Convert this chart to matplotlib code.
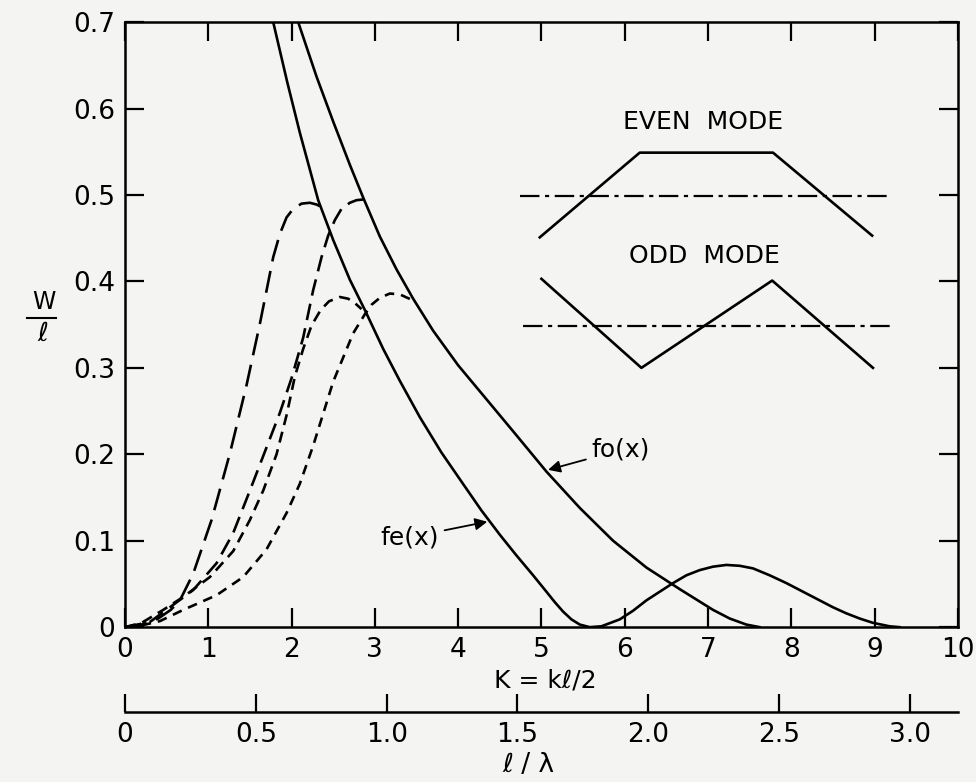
import numpy as np
import matplotlib
matplotlib.use("Agg")
import matplotlib.pyplot as plt

plt.rcParams['font.family'] = ['DejaVu Sans']
plt.rcParams['lines.scale_dashes'] = False

# solid curves
K_fe = [1.78, 1.95, 2.10, 2.32, 2.50, 2.70, 2.88, 3.10, 3.30, 3.54, 3.80, 4.05, 4.28, 4.50,
        4.70, 4.90, 5.06, 5.16, 5.26, 5.36, 5.46, 5.58, 5.72, 5.94, 6.10, 6.26, 6.42, 6.58, 6.74,
        6.90, 7.06, 7.22, 7.38, 7.54, 7.74, 7.94, 8.14, 8.34, 8.50, 8.66, 8.82, 8.98, 9.18, 9.30]
W_fe = [0.700, 0.630, 0.572, 0.494, 0.448, 0.402, 0.367, 0.322, 0.285, 0.243, 0.202, 0.167,
        0.135, 0.107, 0.083, 0.060, 0.041, 0.029, 0.018, 0.009, 0.003, 0.000, 0.001, 0.009, 0.019,
        0.031, 0.041, 0.051, 0.060, 0.066, 0.070, 0.072, 0.071, 0.068, 0.060, 0.051, 0.041,
        0.031, 0.023, 0.016, 0.010, 0.005, 0.001, 0.000]

K_fo = [2.08, 2.30, 2.50, 2.70, 2.86, 3.06, 3.26, 3.46, 3.70, 4.00, 4.32, 4.70, 5.06, 5.46,
        5.86, 6.26, 6.66, 6.86, 7.06, 7.26, 7.46, 7.62]
W_fo = [0.700, 0.637, 0.585, 0.535, 0.497, 0.452, 0.414, 0.380, 0.343, 0.303, 0.266, 0.222,
        0.180, 0.138, 0.100, 0.069, 0.044, 0.032, 0.020, 0.010, 0.003, 0.000]

# dashed curves
K_a = [0, 0.2, 0.4, 0.55, 0.66, 0.82, 1.04, 1.26, 1.46, 1.62, 1.78, 1.86, 1.94, 2.02, 2.12, 2.22, 2.30, 2.34]
W_a = [0, 0.003, 0.010, 0.020, 0.031, 0.062, 0.124, 0.201, 0.280, 0.351, 0.428, 0.455, 0.474,
       0.484, 0.490, 0.491, 0.489, 0.487]

K_b = [0, 0.3, 0.54, 0.82, 1.10, 1.30, 1.50, 1.68, 1.86, 2.0, 2.14, 2.26, 2.36, 2.44, 2.52, 2.60, 2.70, 2.78, 2.88]
W_b = [0, 0.006, 0.023, 0.043, 0.074, 0.109, 0.158, 0.203, 0.248, 0.288, 0.335, 0.390, 0.428,
       0.453, 0.471, 0.484, 0.491, 0.494, 0.495]

K_c = [0, 0.2, 0.46, 0.70, 1.02, 1.30, 1.50, 1.66, 1.82, 1.94, 2.04, 2.14, 2.24, 2.35, 2.45, 2.58, 2.68, 2.76, 2.84]
W_c = [0, 0.005, 0.020, 0.035, 0.058, 0.088, 0.124, 0.158, 0.200, 0.245, 0.290, 0.322, 0.349,
       0.367, 0.377, 0.382, 0.380, 0.375, 0.368]

K_d = [0, 0.2, 0.42, 0.70, 1.10, 1.42, 1.70, 1.94, 2.10, 2.26, 2.50, 2.74, 2.88, 2.96, 3.06, 3.18, 3.30, 3.46]
W_d = [0, 0.002, 0.007, 0.020, 0.037, 0.058, 0.090, 0.132, 0.166, 0.210, 0.284, 0.340, 0.362,
       0.373, 0.381, 0.386, 0.385, 0.378]

# inset sketch of the mode shapes
even_x = [4.98, 6.18, 7.78, 8.97]
even_y = [0.451, 0.549, 0.549, 0.453]
odd_x = [5.00, 6.20, 7.77, 8.98]
odd_y = [0.403, 0.300, 0.401, 0.300]

x_ticks = list(range(0, 11))
y_ticks = [0, 0.1, 0.2, 0.3, 0.4, 0.5, 0.6, 0.7]
y_ticklabels = ['0', '0.1', '0.2', '0.3', '0.4', '0.5', '0.6', '0.7']
lam_ticks = [0, 0.5, 1.0, 1.5, 2.0, 2.5, 3.0]
lam_ticklabels = ['0', '0.5', '1.0', '1.5', '2.0', '2.5', '3.0']

bg = '#f4f4f2'
fig = plt.figure(figsize=(9.76, 7.82), dpi=100, facecolor=bg)
ax = fig.add_axes([0.128, 0.198, 0.8535, 0.7737], facecolor=bg)

lw = 1.9
ax.plot(K_fe, W_fe, color='black', lw=lw)
ax.plot(K_fo, W_fo, color='black', lw=lw)
ax.plot(K_a, W_a, color='black', lw=lw, linestyle=(0, (16, 7)))
ax.plot(K_b, W_b, color='black', lw=lw, linestyle=(0, (12, 6)))
ax.plot(K_c, W_c, color='black', lw=lw, linestyle=(0, (8, 5)))
ax.plot(K_d, W_d, color='black', lw=lw, linestyle=(0, (7, 5)))

# mode sketches
dashdot = (0, (14, 4, 3, 4))
ax.plot(even_x, even_y, color='black', lw=lw)
ax.plot([4.74, 9.15], [0.499, 0.499], color='black', lw=1.6, linestyle=dashdot)
ax.plot(odd_x, odd_y, color='black', lw=lw)
ax.plot([4.78, 9.18], [0.349, 0.349], color='black', lw=1.6, linestyle=dashdot)
ax.text(6.94, 0.584, 'EVEN  MODE', fontsize=18, ha='center', va='center')
ax.text(6.96, 0.430, 'ODD  MODE', fontsize=18, ha='center', va='center')

# curve labels
ax.annotate('fe(x)', xy=(4.35, 0.122), xytext=(3.42, 0.104), fontsize=18,
            ha='center', va='center',
            arrowprops=dict(arrowstyle='-|>', color='black', lw=1.3, shrinkA=2, shrinkB=0))
ax.annotate('fo(x)', xy=(5.08, 0.182), xytext=(5.95, 0.205), fontsize=18,
            ha='center', va='center',
            arrowprops=dict(arrowstyle='-|>', color='black', lw=1.3, shrinkA=2, shrinkB=0))

ax.set_xlim(0, 10)
ax.set_ylim(0, 0.7)
ax.set_xticks(x_ticks)
ax.set_xticklabels([str(t) for t in x_ticks])
ax.set_yticks(y_ticks)
ax.set_yticklabels(y_ticklabels)
ax.tick_params(direction='in', length=14, width=1.6, labelsize=19, top=True, right=True,
               labeltop=False, labelright=False)
ax.tick_params(axis='x', pad=7)
ax.tick_params(axis='y', pad=7)
for s in ax.spines.values():
    s.set_linewidth(1.8)

# W / l label
ax.text(-0.097, 0.537, 'W', transform=ax.transAxes, fontsize=17, ha='center', va='center')
ax.plot([-0.117, -0.083], [0.511, 0.511], transform=ax.transAxes, color='black', lw=1.5,
        clip_on=False)
ax.text(-0.099, 0.484, 'ℓ', transform=ax.transAxes, fontsize=19, ha='center', va='center')

ax.text(0.505, -0.088, 'K = kℓ/2', transform=ax.transAxes, fontsize=18, ha='center', va='center')

# l / lambda axis
sec = ax.secondary_xaxis(-0.1405, functions=(lambda k: k / np.pi, lambda r: r * np.pi))
sec.set_xticks(lam_ticks)
sec.set_xticklabels(lam_ticklabels)
sec.tick_params(direction='in', length=13, width=1.6, labelsize=19, pad=7)
sec.spines['bottom'].set_linewidth(1.8)
ax.text(0.485, -0.228, 'ℓ / λ', transform=ax.transAxes, fontsize=19, ha='center', va='center')

fig.savefig('out.png', dpi=100, facecolor=bg)
